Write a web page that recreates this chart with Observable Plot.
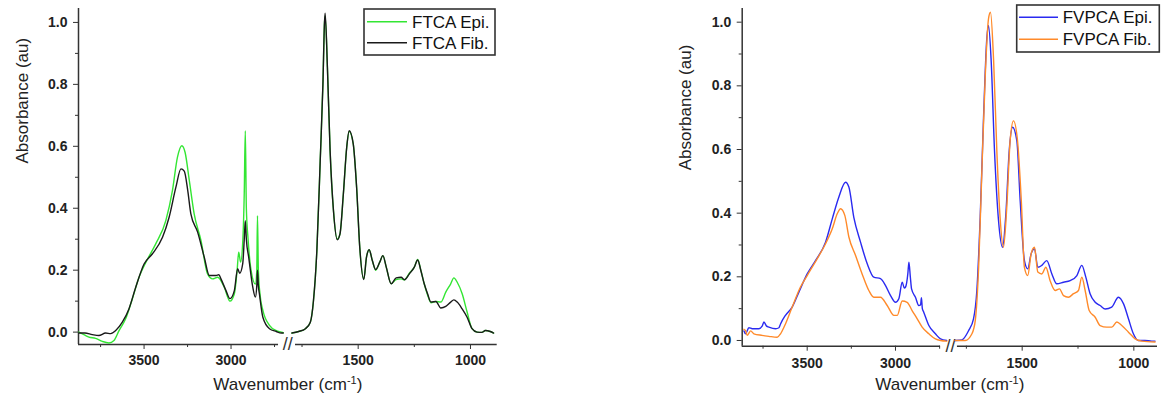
<!DOCTYPE html>
<html>
<head>
<meta charset="utf-8">
<script src="https://cdn.jsdelivr.net/npm/d3@7"></script>
<script src="https://cdn.jsdelivr.net/npm/@observablehq/plot@0.6"></script>
<style>
  body { margin: 0; background: #fff; }
  #wrap { position: relative; width: 1167px; height: 410px; overflow: hidden; font-family: "Liberation Sans", Arial, sans-serif; }
  .panel { position: absolute; top: 0; }
  .legend { position: absolute; top: 0; left: 0; overflow: visible; }
</style>
</head>
<body>
<div id="wrap"></div>
<script>
// ---------------- data ----------------
const xMajorTicks = [3500, 3000, 1500, 1000];
const xMinorTicks = [3750, 3250, 2750, 1750, 1250];
const yMajorTicks = [0, 0.2, 0.4, 0.6, 0.8, 1.0];
const yMinorTicks = [0.1, 0.3, 0.5, 0.7, 0.9];
const xLabel = "Wavenumber (cm-1)";
const yLabel = "Absorbance (au)";

const ftcaNames = ["FTCA Epi.", "FTCA Fib."];
const fvpcaNames = ["FVPCA Epi.", "FVPCA Fib."];

// FTCA Epi. (green)
const ftcaEpiWn = [3876,3840,3817,3779,3740,3702,3673,3644,3606,3567,3529,3490,3433,3375,3337,3308,3283,3264,3240,3212,3173,3135,3106,3077,3039,3006,2981,2965,2956,2945,2932,2924,2918,2912,2902,2885,2860,2852,2848,2843,2833,2817,2779,2740,2711,2700,
  1795,1765,1735,1713,1699,1684,1669,1657,1650,1647,1637,1625,1610,1593,1581,1566,1551,1540,1522,1507,1493,1475,1463,1451,1437,1422,1404,1390,1375,1353,1331,1309,1294,1272,1250,1235,1221,1206,1191,1176,1154,1132,1110,1088,1074,1059,1037,1015,993,971,949,934,912,897];
const ftcaEpiAbs = [0.0,-0.01,-0.016,-0.02,-0.03,-0.035,-0.027,0.005,0.043,0.108,0.177,0.225,0.285,0.36,0.457,0.565,0.602,0.58,0.49,0.382,0.296,0.188,0.172,0.177,0.145,0.1,0.124,0.2,0.258,0.226,0.3,0.45,0.65,0.4,0.3,0.2,0.155,0.2,0.376,0.2,0.12,0.07,0.022,0.005,0.0,-0.002,
  -0.003,0.002,0.011,0.032,0.102,0.263,0.554,0.8,1.0,1.02,0.855,0.586,0.392,0.301,0.317,0.446,0.597,0.648,0.608,0.468,0.274,0.172,0.242,0.266,0.231,0.2,0.226,0.247,0.21,0.156,0.17,0.172,0.169,0.19,0.21,0.235,0.2,0.156,0.12,0.095,0.099,0.097,0.129,0.156,0.175,0.161,0.124,0.065,0.011,0.0,-0.001,0.005,0.002,-0.003];

// FTCA Fib. (black)
const ftcaFibWn = [3876,3840,3798,3760,3721,3692,3663,3625,3587,3548,3500,3452,3394,3356,3317,3288,3269,3250,3231,3192,3154,3125,3087,3070,3058,3029,3006,2981,2962,2950,2933,2924,2918,2912,2898,2875,2860,2852,2848,2843,2837,2817,2779,2740,2711,2700,
  1795,1765,1735,1713,1699,1684,1669,1657,1650,1647,1637,1625,1610,1593,1581,1566,1551,1540,1522,1507,1493,1475,1463,1451,1437,1422,1404,1390,1375,1353,1331,1309,1294,1272,1250,1235,1221,1206,1191,1176,1154,1132,1110,1088,1074,1059,1037,1015,993,971,949,934,912,897];
const ftcaFibAbs = [-0.003,-0.003,-0.008,-0.011,-0.003,-0.005,0.005,0.032,0.075,0.145,0.22,0.253,0.306,0.371,0.468,0.527,0.52,0.462,0.382,0.323,0.242,0.183,0.183,0.185,0.172,0.134,0.108,0.134,0.205,0.19,0.22,0.3,0.36,0.3,0.24,0.145,0.113,0.15,0.2,0.15,0.124,0.048,0.011,0.002,-0.003,-0.003,
  -0.003,0.002,0.011,0.032,0.102,0.263,0.554,0.8,1.0,1.03,0.855,0.586,0.392,0.298,0.317,0.446,0.597,0.65,0.608,0.468,0.274,0.17,0.242,0.266,0.231,0.202,0.226,0.247,0.21,0.156,0.175,0.177,0.169,0.188,0.21,0.233,0.199,0.156,0.124,0.097,0.099,0.078,0.083,0.097,0.104,0.097,0.075,0.048,0.011,0.0,-0.001,0.005,0.002,-0.003];

// FVPCA Epi. (blue)
const fvpcaEpiWn = [3858,3849,3830,3811,3774,3755,3745,3730,3717,3679,3660,3651,3623,3585,3547,3500,3453,3396,3358,3321,3283,3264,3236,3198,3160,3123,3085,3057,3028,3000,2981,2962,2950,2943,2930,2924,2916,2909,2887,2868,2858,2853,2848,2840,2811,2774,2745,2710,
  1800,1770,1740,1718,1703,1688,1673,1658,1651,1639,1624,1606,1588,1573,1558,1543,1524,1509,1490,1475,1460,1445,1430,1412,1390,1367,1345,1315,1285,1255,1233,1215,1196,1173,1151,1128,1099,1069,1046,1024,1002,980,950,920,905];
const fvpcaEpiAbs = [0.03,0.021,0.04,0.037,0.037,0.045,0.058,0.045,0.042,0.037,0.04,0.052,0.079,0.105,0.152,0.209,0.251,0.309,0.382,0.45,0.497,0.482,0.387,0.309,0.241,0.199,0.194,0.173,0.141,0.12,0.131,0.183,0.165,0.168,0.21,0.246,0.2,0.162,0.136,0.11,0.112,0.134,0.1,0.089,0.047,0.021,0.005,0.0,
  0.0,0.002,0.031,0.068,0.157,0.387,0.702,0.953,0.99,0.88,0.597,0.377,0.293,0.398,0.597,0.67,0.628,0.44,0.251,0.225,0.272,0.288,0.23,0.236,0.251,0.209,0.178,0.183,0.188,0.204,0.236,0.199,0.147,0.12,0.11,0.099,0.105,0.136,0.115,0.068,0.021,0.0,0.0,-0.002,-0.002];

// FVPCA Fib. (orange)
const fvpcaFibWn = [3858,3849,3840,3820,3802,3755,3717,3670,3651,3623,3585,3538,3500,3443,3396,3358,3330,3311,3287,3264,3226,3189,3151,3123,3085,3047,3009,2990,2962,2934,2906,2877,2849,2811,2774,2745,2710,
  1800,1755,1725,1710,1695,1680,1665,1651,1642,1628,1613,1599,1584,1569,1554,1539,1521,1504,1490,1475,1460,1445,1430,1412,1394,1375,1352,1333,1315,1293,1270,1248,1233,1218,1200,1173,1151,1121,1099,1076,1054,1024,994,964,905];
const fvpcaFibAbs = [0.035,0.031,0.016,0.03,0.021,0.016,0.013,0.01,0.021,0.052,0.105,0.168,0.204,0.257,0.304,0.351,0.398,0.414,0.393,0.325,0.267,0.209,0.157,0.136,0.136,0.11,0.079,0.079,0.124,0.12,0.094,0.068,0.042,0.021,0.005,0.0,-0.002,
  0.0,0.0,0.021,0.063,0.23,0.545,0.838,1.01,1.031,0.88,0.586,0.387,0.293,0.419,0.628,0.69,0.628,0.44,0.23,0.204,0.272,0.293,0.215,0.209,0.23,0.188,0.157,0.162,0.141,0.136,0.147,0.157,0.199,0.157,0.094,0.073,0.047,0.042,0.042,0.058,0.047,0.026,0.005,-0.002,-0.005];

// ---------------- helpers ----------------
function rows(name, wn, abs) {
  return wn.map((w, i) => ({name, w, a: abs[i], seg: name + (w > 2200 ? "-hi" : "-lo")}));
}

function makePanel(cfg) {
  const [x0, , , x3] = cfg.xDomain;
  const [yMin, yMax] = cfg.yDomain;
  const data = cfg.series.flatMap(s => rows(s.name, s.wn, s.abs));
  const frameL = cfg.xRange[0], frameR = cfg.xRange[3];
  const svg = Plot.plot({
    width: cfg.width,
    height: 410,
    marginLeft: frameL,
    marginRight: cfg.width - frameR,
    marginTop: cfg.yRange[1],
    marginBottom: 410 - cfg.yRange[0],
    style: {fontFamily: "'Liberation Sans', Arial, sans-serif", background: "transparent", color: "#222", overflow: "visible"},
    x: {type: "linear", domain: cfg.xDomain, range: cfg.xRange},
    y: {type: "linear", domain: cfg.yDomain, range: cfg.yRange},
    color: {domain: cfg.series.map(s => s.name), range: cfg.series.map(s => s.color)},
    marks: [
      Plot.ruleX([x0], {y1: yMin, y2: yMax, stroke: "#333", strokeWidth: 1.5}),
      Plot.ruleY([yMin], {x1: x0, x2: cfg.axisBreak[0], stroke: "#333", strokeWidth: 1.5}),
      Plot.ruleY([yMin], {x1: cfg.axisBreak[1], x2: x3, stroke: "#333", strokeWidth: 1.5}),
      Plot.text([yMin], {x: cfg.breakWn, y: d => d, text: () => "//", fontSize: 18, dx: cfg.breakDx, fill: "#333"}),
      Plot.axisX(xMajorTicks, {tickSize: 5, tickPadding: cfg.xTickPad, fontSize: 14, fontWeight: "bold", stroke: "#333", label: null, tickFormat: d => String(d)}),
      Plot.axisX(xMinorTicks, {tickSize: 3, tickPadding: 0, stroke: "#333", label: null, tickFormat: () => ""}),
      Plot.axisY(yMajorTicks, {tickSize: 5, tickPadding: 6, fontSize: 14, fontWeight: "bold", stroke: "#333", label: null, tickFormat: d3.format(".1f")}),
      Plot.axisY(yMinorTicks, {tickSize: 3, tickPadding: 0, stroke: "#333", label: null, tickFormat: () => ""}),
      Plot.line(data, {x: "w", y: "a", z: "seg", stroke: "name", strokeWidth: 1.4, curve: "monotone-x"}),
      Plot.text([yLabel], {frameAnchor: "left", rotate: -90, dx: cfg.yLabelDx, dy: cfg.yLabelDy, fontSize: 17, fill: "#222"}),
      Plot.text([xLabel], {frameAnchor: "bottom", dy: cfg.xLabelDy, fontSize: 17, fill: "#222"})
    ]
  });
  // superscript in x label
  d3.select(svg).selectAll("text").filter(function () { return this.textContent === xLabel; }).each(function () {
    const t = d3.select(this);
    t.text(null);
    t.append("tspan").text("Wavenumber (cm");
    t.append("tspan").attr("dy", "-6").attr("font-size", "11").text("-1");
    t.append("tspan").attr("dy", "6").text(")");
  });
  svg.classList.add("panel");
  svg.style.left = cfg.left + "px";
  return svg;
}

function makeLegend(wrap, lg, series) {
  const svg = d3.create("svg")
    .attr("class", "legend")
    .attr("width", 1167).attr("height", 410)
    .style("position", "absolute").style("left", "0px").style("top", "0px")
    .attr("font-family", "'Liberation Sans', Arial, sans-serif");
  svg.append("rect")
    .attr("x", lg.x).attr("y", lg.y).attr("width", lg.w).attr("height", lg.h)
    .attr("fill", "#fff").attr("stroke", "#333").attr("stroke-width", 1.6);
  series.forEach((s, i) => {
    const cy = lg.rowY[i];
    svg.append("line")
      .attr("x1", lg.lineX0).attr("x2", lg.lineX1).attr("y1", cy).attr("y2", cy)
      .attr("stroke", s.color).attr("stroke-width", 1.6);
    svg.append("text")
      .attr("x", lg.textX).attr("y", cy).attr("dy", "0.35em")
      .attr("font-size", 17).attr("fill", "#111")
      .text(s.name);
  });
  wrap.appendChild(svg.node());
}

const wrap = document.getElementById("wrap");

const leftSeries = [
  {name: ftcaNames[0], wn: ftcaEpiWn, abs: ftcaEpiAbs, color: "#33e633"},
  {name: ftcaNames[1], wn: ftcaFibWn, abs: ftcaFibAbs, color: "#1a1a1a"}
];
const rightSeries = [
  {name: fvpcaNames[0], wn: fvpcaEpiWn, abs: fvpcaEpiAbs, color: "#2a2af0"},
  {name: fvpcaNames[1], wn: fvpcaFibWn, abs: fvpcaFibAbs, color: "#ff8a2a"}
];

wrap.appendChild(makePanel({
  left: 0, width: 540,
  xDomain: [3877, 2680, 1800, 881], xRange: [78, 286.2, 290.3, 496.7],
  yDomain: [-0.04, 1.045], yRange: [344, 8],
  axisBreak: [2727, 1779], breakWn: 2240, breakDx: -1,
  xTickPad: 6, yLabelDx: -56, yLabelDy: -13, xLabelDy: 45,
  series: leftSeries
}));
wrap.appendChild(makePanel({
  left: 600, width: 567,
  xDomain: [3868, 2680, 1800, 894], xRange: [141.7, 351.5, 354.7, 557],
  yDomain: [-0.018, 1.043], yRange: [345.7, 8],
  axisBreak: [2745, 1790], breakWn: 2240, breakDx: -3,
  xTickPad: 7, yLabelDx: -56.7, yLabelDy: -7, xLabelDy: 44,
  series: rightSeries
}));

makeLegend(wrap, {x: 364, y: 9, w: 131, h: 46, lineX0: 367, lineX1: 407, textX: 412, rowY: [21.7, 42.7]}, leftSeries);
makeLegend(wrap, {x: 1016.7, y: 5, w: 142.6, h: 47, lineX0: 1019, lineX1: 1058, textX: 1062.7, rowY: [17.3, 39.3]}, rightSeries);
</script>
</body>
</html>
